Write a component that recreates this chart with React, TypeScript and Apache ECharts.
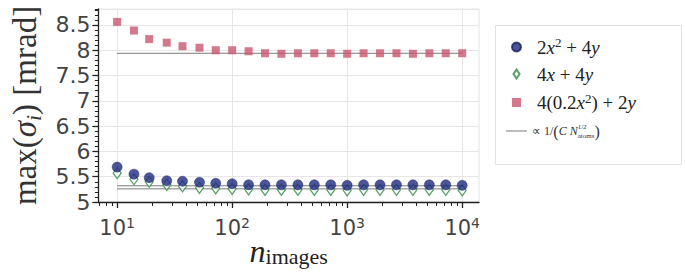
import React, { useEffect, useRef } from 'react';
import * as echarts from 'echarts';

// x: number of images (log-spaced, 7 per decade)
const nImages = [10, 14, 19, 27, 37, 52, 72, 100, 139, 193, 268, 373, 518, 720, 1000, 1389, 1931, 2683, 3728, 5179, 7197, 10000];
// max(sigma_i) [mrad] per configuration
const quadraticMax = [5.69, 5.55, 5.48, 5.42, 5.41, 5.39, 5.37, 5.36, 5.34, 5.34, 5.34, 5.34, 5.34, 5.34, 5.33, 5.34, 5.34, 5.34, 5.34, 5.34, 5.34, 5.33];
const linearMax = [5.57, 5.45, 5.40, 5.34, 5.31, 5.28, 5.27, 5.26, 5.25, 5.24, 5.24, 5.24, 5.24, 5.24, 5.23, 5.24, 5.24, 5.24, 5.24, 5.24, 5.24, 5.23];
const scaledMax = [8.56, 8.39, 8.22, 8.15, 8.08, 8.05, 8.00, 8.00, 7.98, 7.94, 7.93, 7.94, 7.94, 7.94, 7.93, 7.94, 7.94, 7.94, 7.93, 7.94, 7.94, 7.94];
// asymptotic reference levels (∝ 1/(C N^1/2))
const refLevels = [5.32, 5.26, 7.94];
const refX = [10, 10000];
// axis ticks
const majorTicks = [10, 100, 1000, 10000];
const minorTicks = [7, 8, 9, 20, 30, 40, 50, 60, 70, 80, 90, 200, 300, 400, 500, 600, 700, 800, 900, 2000, 3000, 4000, 5000, 6000, 7000, 8000, 9000];

const NAME_Q = '2x^2 + 4y';
const NAME_L = '4x + 4y';
const NAME_S = '4(0.2x^2) + 2y';
const NAME_REF = 'prop 1/(C N_atoms^1/2)';

const legendLabels: Record<string, string> = {
  [NAME_Q]: '{g|}{n|2}{i|x}{sup|2}{n| + 4}{i|y}',
  [NAME_L]: '{g|}{n|4}{i|x}{n| + 4}{i|y}',
  [NAME_S]: '{g|}{n|4(0.2}{i|x}{sup|2}{n|) + 2}{i|y}',
  [NAME_REF]: '{s|∝ 1/}{p|(}{si|C N}{ss|1/2}{sb|atoms}{p|)}',
};

export default function App() {
  const ref = useRef<HTMLDivElement>(null);
  useEffect(() => {
    const chart = echarts.init(ref.current!, null, { renderer: 'svg' });
    const serif = 'Liberation Serif';
    const sans = 'DejaVu Sans';
    const pairs = (ys: number[]) => nImages.map((x, i) => [x, ys[i]]);
    const xMin = 6.87;
    const xMax = 14000;
    const yMin = 5;
    const yMax = 8.815;

    const refSeries = refLevels.map((y) => ({
      type: 'line',
      name: NAME_REF,
      data: refX.map((x) => [x, y]),
      symbol: 'none',
      silent: true,
      z: 1,
      lineStyle: { color: '#7a7a7a', width: 1 },
      itemStyle: { color: '#7a7a7a' },
    }));

    chart.setOption({
      animation: false,
      backgroundColor: '#fff',
      grid: { left: 93, top: 9, right: 206, bottom: 75, show: true, borderColor: '#e4e4e4', borderWidth: 1 },
      xAxis: [
        {
          type: 'log',
          logBase: 10,
          min: xMin,
          max: xMax,
          splitNumber: 3,
          name: '{n|n}{s|images}',
          nameLocation: 'middle',
          nameGap: 33,
          nameMoveOverlap: false,
          nameTextStyle: {
            rich: {
              n: { fontFamily: serif, fontStyle: 'italic', fontSize: 32, color: '#222', lineHeight: 32 },
              s: { fontFamily: serif, fontSize: 22, color: '#222', verticalAlign: 'bottom', lineHeight: 24 },
            },
          },
          axisLine: { show: true, lineStyle: { color: '#222', width: 1.3 } },
          axisTick: { show: true, customValues: majorTicks, length: 6, lineStyle: { color: '#222', width: 1.3 } },
          axisLabel: {
            customValues: majorTicks,
            margin: 14,
            formatter: (v: number) => `{b|10}{e|${Math.round(Math.log10(v))}}`,
            rich: {
              b: { fontFamily: sans, fontSize: 21, color: '#444', lineHeight: 24 },
              e: { fontFamily: sans, fontSize: 14, color: '#444', verticalAlign: 'top', lineHeight: 14 },
            },
          },
          splitLine: { show: true, lineStyle: { color: '#e6e6e6', width: 1 } },
        },
        {
          type: 'log',
          logBase: 10,
          min: xMin,
          max: xMax,
          position: 'bottom',
          axisLine: { show: false },
          axisTick: { show: true, customValues: minorTicks, length: 4, lineStyle: { color: '#222', width: 1 } },
          axisLabel: { show: false },
          splitLine: { show: false },
        },
      ],
      yAxis: [
        {
          type: 'value',
          min: yMin,
          max: yMax,
          interval: 0.5,
          name: '{t|max(}{gi|σ}{sub|i}{t|) [mrad]}',
          nameLocation: 'middle',
          nameGap: 52,
          nameTextStyle: {
            rich: {
              t: { fontFamily: serif, fontSize: 33, color: '#333', lineHeight: 40 },
              gi: { fontFamily: serif, fontStyle: 'italic', fontSize: 33, color: '#333', lineHeight: 40 },
              sub: { fontFamily: serif, fontStyle: 'italic', fontSize: 22, color: '#333', verticalAlign: 'bottom', lineHeight: 30 },
            },
          },
          axisLine: { show: true, lineStyle: { color: '#222', width: 1.3 } },
          axisTick: { show: true, length: 6, lineStyle: { color: '#222', width: 1.3 } },
          axisLabel: { showMaxLabel: false, margin: 8, fontFamily: sans, fontSize: 22, color: '#444' },
          splitLine: { show: true, lineStyle: { color: '#e6e6e6', width: 1 } },
        },
        {
          type: 'value',
          min: yMin,
          max: yMax,
          interval: 0.1,
          position: 'left',
          axisLine: { show: false },
          axisTick: { show: true, length: 3.5, lineStyle: { color: '#222', width: 1 } },
          axisLabel: { show: false },
          splitLine: { show: false },
        },
      ],
      legend: {
        orient: 'vertical',
        left: 506,
        top: 36,
        padding: 0,
        itemGap: 8,
        itemWidth: 21,
        itemHeight: 9,
        selectedMode: false,
        data: [
          { name: NAME_Q, icon: 'circle' },
          { name: NAME_L, icon: 'path://M3,0L6,4.5L3,9L0,4.5Z' },
          { name: NAME_S, icon: 'path://M0,0L10,0L10,10L0,10Z' },
          { name: NAME_REF, icon: 'path://M0,0L21,0L21,1L0,1Z' },
        ],
        formatter: (name: string) => legendLabels[name] || name,
        textStyle: {
          rich: {
            g: { width: 5 },
            n: { fontFamily: serif, fontSize: 19, color: '#222', lineHeight: 22 },
            i: { fontFamily: serif, fontStyle: 'italic', fontSize: 19, color: '#222', lineHeight: 22 },
            sup: { fontFamily: serif, fontSize: 13, color: '#222', verticalAlign: 'top', lineHeight: 13 },
            s: { fontFamily: serif, fontSize: 12, color: '#333', lineHeight: 22 },
            si: { fontFamily: serif, fontStyle: 'italic', fontSize: 12, color: '#333', lineHeight: 22 },
            p: { fontFamily: serif, fontSize: 16, color: '#333', lineHeight: 22 },
            ss: { fontFamily: serif, fontSize: 7, color: '#333', verticalAlign: 'top', lineHeight: 7, padding: [3, 0, 0, 0], width: 0 },
            sb: { fontFamily: serif, fontSize: 7, color: '#333', verticalAlign: 'bottom', lineHeight: 7, padding: [0, 0, 3, 0] },
          },
        },
      },
      graphic: [
        {
          type: 'rect',
          left: 493,
          top: 23,
          shape: { width: 186, height: 139 },
          style: { fill: 'none', stroke: '#e2e2e2', lineWidth: 1 },
          silent: true,
        },
      ],
      series: [
        ...refSeries,
        {
          type: 'scatter',
          name: NAME_L,
          data: pairs(linearMax),
          symbol: 'diamond',
          symbolSize: [8, 11],
          z: 2,
          itemStyle: { color: '#ffffff', borderColor: '#2f8a45', borderWidth: 1.3 },
        },
        {
          type: 'scatter',
          name: NAME_Q,
          data: pairs(quadraticMax),
          symbol: 'circle',
          symbolSize: 10,
          z: 3,
          itemStyle: { color: '#1f2a80', borderColor: '#18215f', borderWidth: 0.6 },
        },
        {
          type: 'scatter',
          name: NAME_S,
          data: pairs(scaledMax),
          symbol: 'rect',
          symbolSize: 8,
          z: 3,
          itemStyle: { color: '#c9566f' },
        },
      ],
    });
    return () => chart.dispose();
  }, []);
  return <div ref={ref} style={{ position: 'fixed', left: 0, top: 0, width: 685, height: 277 }} />;
}
